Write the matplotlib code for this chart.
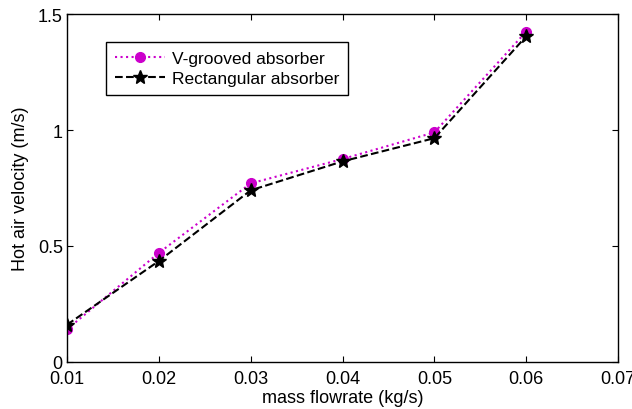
import matplotlib
matplotlib.use('Agg')
import matplotlib.pyplot as plt

plt.rcParams['font.family'] = ['Liberation Sans', 'DejaVu Sans']

flow = [0.01, 0.02, 0.03, 0.04, 0.05, 0.06]
v_grooved = [0.14, 0.47, 0.77, 0.875, 0.99, 1.425]
rectangular = [0.16, 0.435, 0.74, 0.865, 0.965, 1.405]

fig = plt.figure(figsize=(6.32, 4.10), dpi=100)
ax = fig.add_axes([0.106, 0.115, 0.872, 0.848])

ax.plot(flow, v_grooved, ':', color='#cc00cc', lw=1.5, marker='o', ms=7,
        mfc='#cc00cc', mec='#cc00cc', label='V-grooved absorber')
ax.plot(flow, rectangular, '--', color='black', lw=1.5, marker='*', ms=10,
        label='Rectangular absorber')

ax.set_xlim(0.01, 0.07)
ax.set_ylim(0, 1.5)
ax.set_xticks([0.01, 0.02, 0.03, 0.04, 0.05, 0.06, 0.07])
ax.set_xticklabels(['0.01', '0.02', '0.03', '0.04', '0.05', '0.06', '0.07'])
ax.set_yticks([0, 0.5, 1, 1.5])
ax.set_yticklabels(['0', '0.5', '1', '1.5'])
ax.tick_params(direction='in', top=True, right=True, labelsize=13, length=4)
ax.tick_params(axis='x', pad=6)
ax.tick_params(axis='y', pad=3)
for s in ax.spines.values():
    s.set_linewidth(1.0)

ax.set_xlabel('mass flowrate (kg/s)', fontsize=13, labelpad=1)
ax.set_ylabel('Hot air velocity (m/s)', fontsize=13, labelpad=6)

leg = ax.legend(loc='upper left', bbox_to_anchor=(0.071, 0.92), borderaxespad=0,
                fancybox=False, edgecolor='black', fontsize=12.5, handlelength=2.9,
                handletextpad=0.4, framealpha=1, borderpad=0.5, labelspacing=0.3)
leg.get_frame().set_linewidth(1.0)

fig.savefig('out.png', dpi=100)
